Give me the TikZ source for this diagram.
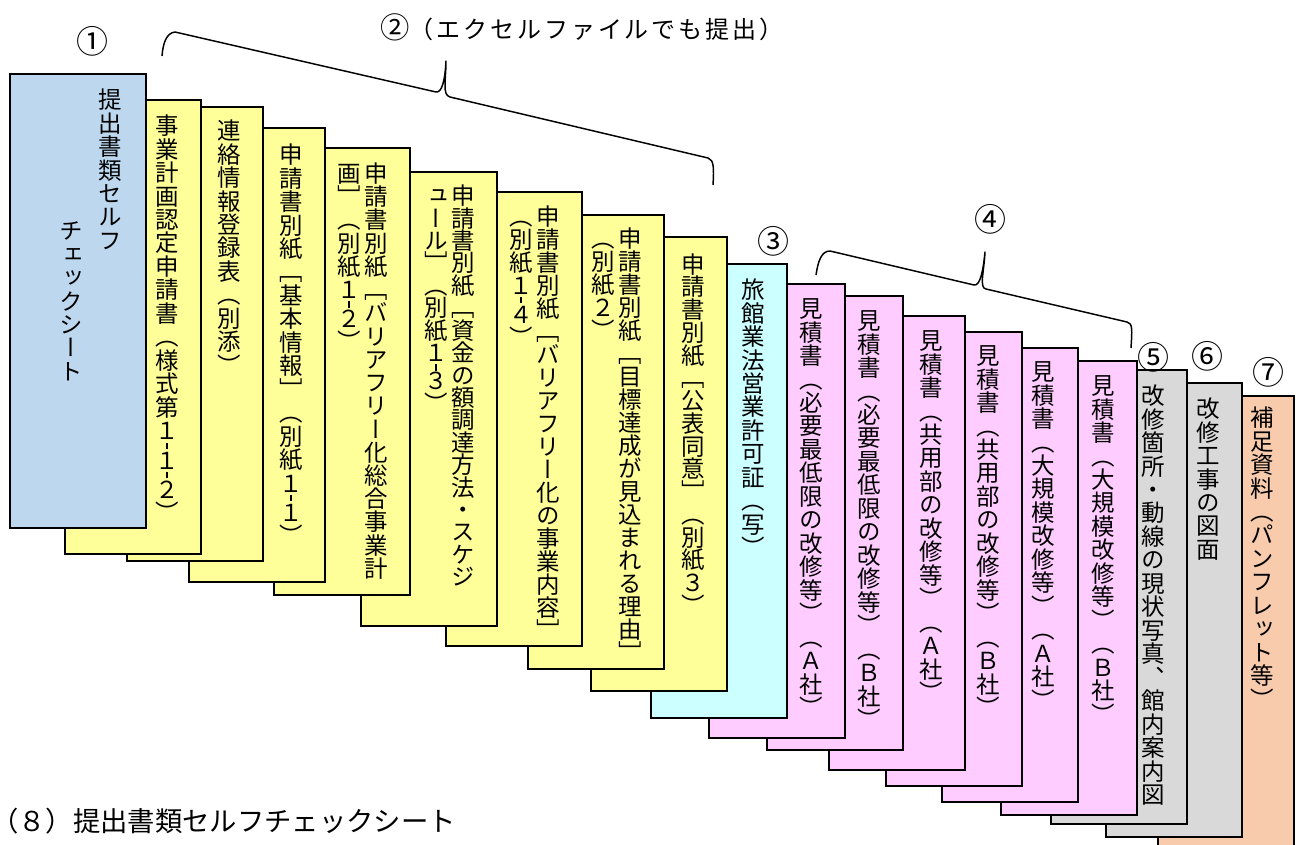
\documentclass[tikz,border=0pt]{standalone}
\usepackage{fontspec}
\newfontfamily\jp{Noto Sans CJK JP}
\newfontfamily\jpv{Noto Sans CJK JP}[RawFeature=+vert]
\newfontfamily\jpl{Noto Sans CJK JP}[LetterSpace=12]
\usetikzlibrary{calc}
\definecolor{cblue}{RGB}{189,215,238}
\definecolor{cyel}{RGB}{255,255,153}
\definecolor{ccyan}{RGB}{204,255,255}
\definecolor{cpink}{RGB}{255,204,255}
\definecolor{cgray}{RGB}{217,217,217}
\definecolor{corange}{RGB}{248,203,173}

\ExplSyntaxOn
\dim_new:N \l__vt_p_dim
\cs_new_protected:Npn \__vt_cell:n #1
  {
    \hbox_to_wd:nn { 1em }
      { \hss \vrule height 0.88\l__vt_p_dim depth 0.12\l__vt_p_dim width 0pt \smash{#1} \hss }
  }
\cs_new_protected:Npn \__vt_tick:
  {
    \hbox_to_wd:nn { 1em }
      { \hss \vrule height 0.25em depth 0pt width 0pt \smash{\rule[-0.02em]{0.06em}{0.27em}} \hss }
  }
\NewDocumentCommand \vt { O{1} m }
  {
    \dim_set:Nn \l__vt_p_dim { #1em }
    \vbox
      {
        \offinterlineskip
        \tl_map_inline:nn {#2}
          {
            \str_if_eq:nnTF {##1} {-}
              { \__vt_tick: }
              { \__vt_cell:n {##1} }
          }
      }
  }
\ExplSyntaxOff

\tikzset{
  card/.style={draw=black, line width=1.4pt, anchor=north west, inner sep=0pt, outer sep=0pt,
    minimum width=102pt, minimum height=340.5pt},
  vcol/.style={anchor=north, inner sep=0pt, outer sep=0pt, font=\jpv\fontsize{17.6}{17.6}\selectfont},
  lab/.style={inner sep=0pt, outer sep=0pt, font=\jp\fontsize{24}{24}\selectfont},
  brace/.style={draw=black, line width=1.1pt, line join=round},
}

\begin{document}
\begin{tikzpicture}[x=0.75pt,y=-0.75pt]
\useasboundingbox (0,0) rectangle (1302,845);
\clip (0,0) rectangle (1302,845);

% cards, back to front
\node[card, fill=corange] (c19) at (1158,396) {};
\node[card, fill=cgray]   (c18) at (1106,383) {};
\node[card, fill=cgray]   (c17) at (1051,370) {};
\node[card, fill=cpink]   (c16) at (1001,361) {};
\node[card, fill=cpink]   (c15) at (942,348) {};
\node[card, fill=cpink]   (c14) at (886,332) {};
\node[card, fill=cpink]   (c13) at (829,316) {};
\node[card, fill=cpink]   (c12) at (767,296) {};
\node[card, fill=cpink]   (c11) at (709,284) {};
\node[card, fill=ccyan]   (c10) at (651,264) {};
\node[card, fill=cyel]    (c9)  at (591,237) {};
\node[card, fill=cyel]    (c8)  at (528,215) {};
\node[card, fill=cyel]    (c7)  at (446,192) {};
\node[card, fill=cyel]    (c6)  at (361,172) {};
\node[card, fill=cyel, minimum height=335.25pt] (c5) at (274,148) {};
\node[card, fill=cyel]    (c4)  at (189,128) {};
\node[card, fill=cyel]    (c3)  at (127,107) {};
\node[card, fill=cyel]    (c2)  at (65,100) {};
\node[card, fill=cblue]   (c1)  at (10,74) {};

% card texts
\node[vcol] (t1a) at (110,88) {\vt{提出書類セルフ}};
\node[vcol] (t1b) at (71,219) {\vt{チェックシート}};
\node[vcol] (t2) at ($(c2.north east)+(-34,14)$) {\vt{事業計画認定申請書（様式第１-１-２）}};
\node[vcol] (t3) at ($(c3.north east)+(-34,12)$) {\vt{連絡情報登録表（別添）}};
\node[vcol] (t4) at ($(c4.north east)+(-34,15)$) {\vt{申請書別紙［基本情報］（別紙１-１）}};
\node[vcol] (t5a) at ($(c5.north east)+(-34,14)$) {\vt[0.99]{申請書別紙［バリアフリー化総合事業計}};
\node[vcol] (t5b) at ($(c5.north east)+(-61,14)$) {\vt[0.99]{画］（別紙１-２）}};
\node[vcol] (t6a) at ($(c6.north east)+(-34,13)$) {\vt[0.955]{申請書別紙［資金の額調達方法・スケジ}};
\node[vcol] (t6b) at ($(c6.north east)+(-61,13)$) {\vt[0.955]{ュール］（別紙１-３）}};
\node[vcol] (t7a) at ($(c7.north east)+(-34,13)$) {\vt[0.98]{申請書別紙［バリアフリー化の事業内容］}};
\node[vcol] (t7b) at ($(c7.north east)+(-61,13)$) {\vt[0.98]{（別紙１-４）}};
\node[vcol] (t8a) at ($(c8.north east)+(-34,12)$) {\vt[0.98]{申請書別紙［目標達成が見込まれる理由］}};
\node[vcol] (t8b) at ($(c8.north east)+(-61,12)$) {\vt[0.98]{（別紙２）}};
\node[vcol] (t9) at ($(c9.north east)+(-34,16)$) {\vt[0.97]{申請書別紙［公表同意］（別紙３）}};
\node[vcol] (t10) at ($(c10.north east)+(-34,14)$) {\vt{旅館業法営業許可証（写）}};
\node[vcol] (t11) at ($(c11.north east)+(-34,13)$) {\vt{見積書（必要最低限の改修等）（Ａ社）}};
\node[vcol] (t12) at ($(c12.north east)+(-34,13)$) {\vt{見積書（必要最低限の改修等）（Ｂ社）}};
\node[vcol] (t13) at ($(c13.north east)+(-34,13)$) {\vt{見積書（共用部の改修等）（Ａ社）}};
\node[vcol] (t14) at ($(c14.north east)+(-34,12)$) {\vt{見積書（共用部の改修等）（Ｂ社）}};
\node[vcol] (t15) at ($(c15.north east)+(-35,12)$) {\vt{見積書（大規模改修等）（Ａ社）}};
\node[vcol] (t16) at ($(c16.north east)+(-34,13)$) {\vt{見積書（大規模改修等）（Ｂ社）}};
\node[vcol] (t17) at ($(c17.north east)+(-34,14)$) {\vt{改修箇所・動線の現状写真、館内案内図}};
\node[vcol] (t18) at ($(c18.north east)+(-34,14)$) {\vt{改修工事の図面}};
\node[vcol] (t19) at ($(c19.north east)+(-32,10)$) {\vt{補足資料（パンフレット等）}};

% labels
\node[lab] (n1) at (92,41) {①};
\node[lab, font=\jpl\fontsize{18}{18}\selectfont] (n2) at (582,27) {{\fontsize{22}{22}\selectfont ②}（エクセルファイルでも提出）};
\node[lab] (n3) at (773,241) {③};
\node[lab] (n4) at (990,219) {④};
\node[lab] (n5) at (1153,357) {⑤};
\node[lab] (n6) at (1207,356) {⑥};
\node[lab] (n7) at (1268,372) {⑦};
\node[lab, anchor=west, font=\jp\fontsize{20.5}{20.5}\selectfont] (n8) at (2,821) {\kern-0.4em（８）提出書類セルフチェックシート};

% braces
\draw[brace] (162,56) .. controls (163,44) and (166,33) .. (175,32)
  -- (436,92) .. controls (442,93) and (445,80) .. (446,61)
  .. controls (446,80) and (442,95) .. (450,97)
  -- (708,158) .. controls (714,160) and (714,168) .. (713,185);
\draw[brace] (816,275) .. controls (818,262) and (821,251) .. (830,251)
  -- (974,285) .. controls (980,286) and (983,272) .. (985,252)
  .. controls (984,272) and (979,288) .. (986,289)
  -- (1127,322) .. controls (1133,323) and (1132,331) .. (1131,348);
\end{tikzpicture}
\end{document}
